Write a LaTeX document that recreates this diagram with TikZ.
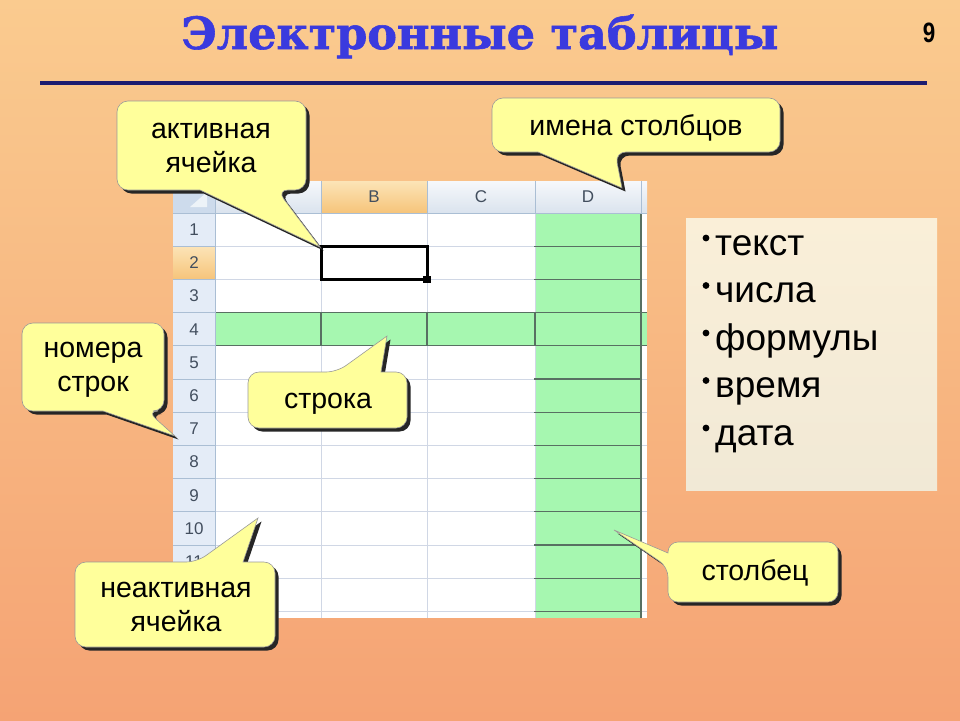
\documentclass[tikz,border=0pt]{standalone}
\usepackage{fontspec}
\setmainfont{Liberation Sans}
\newfontfamily\titlefont[BoldFeatures={FakeBold=1.3}]{DejaVu Serif}
\usetikzlibrary{shadows}

\begin{document}
\begin{tikzpicture}[x=1pt,y=-1pt,
    calloutshape/.style={fill=calyel, draw=black!40, line width=0.6pt,
      drop shadow={shadow xshift=3.5pt, shadow yshift=-3.5pt, fill=black!85, opacity=1}},
    callouttext/.style={font=\fontsize{28.5}{34.5}\selectfont, align=center, inner sep=0pt},
    hdrtext/.style={font=\fontsize{17}{17}\selectfont, text=hdrink, inner sep=0pt},
    gridline/.style={draw=gridgray, line width=1pt},
    greenline/.style={draw=greenedge, line width=1.3pt},
    hdrline/.style={draw=hdredge, line width=0.8pt},
    itemtext/.style={font=\fontsize{37}{37}\selectfont, anchor=base west, inner sep=0pt}]
  \definecolor{bgtop}{RGB}{250,203,143}
  \definecolor{bgbot}{RGB}{245,163,116}
  \definecolor{titleblue}{RGB}{58,58,222}
  \definecolor{rulenavy}{RGB}{28,28,112}
  \definecolor{calyel}{RGB}{255,255,155}
  \definecolor{cellgreen}{RGB}{166,247,176}
  \definecolor{greenedge}{RGB}{88,112,98}
  \definecolor{gridgray}{RGB}{208,215,229}
  \definecolor{hdrtop}{RGB}{246,248,251}
  \definecolor{hdrbot}{RGB}{218,227,238}
  \definecolor{seltop}{RGB}{252,228,183}
  \definecolor{selbot}{RGB}{246,196,122}
  \definecolor{rowhdr}{RGB}{228,236,247}
  \definecolor{cornerblue}{RGB}{205,219,236}
  \definecolor{hdredge}{RGB}{170,190,212}
  \definecolor{hdrink}{RGB}{66,78,94}
  \definecolor{paneltop}{RGB}{250,239,216}
  \definecolor{panelbot}{RGB}{241,233,214}
  \useasboundingbox (0,0) rectangle (960,720);
  \shade[top color=bgtop, bottom color=bgbot] (0,0) rectangle (960,720);

  % title and rule
  \node[font=\titlefont\bfseries\fontsize{44.5}{44.5}\selectfont, text=titleblue,
        anchor=base, inner sep=0pt] (title) at (480,49) {Электронные таблицы};
  \node[font=\bfseries\fontsize{28}{28}\selectfont, anchor=base, inner sep=0pt,
        xscale=0.8] (pagenum) at (929,42) {9};
  \draw[rulenavy, line width=4pt] (40,83) -- (927,83);

  % cells
  \fill[white] (215,213) rectangle (647,618);
  \fill[cellgreen] (535,213) rectangle (641,618);
  \fill[cellgreen] (215,312.6) rectangle (647,345.8);
  \foreach \xx in {321,427,535,641}
    \draw[gridline] (\xx,213) -- (\xx,618);
  \foreach \r in {1,...,12} {
    \pgfmathsetmacro{\yy}{213+\r*33.2}
    \draw[gridline] (215,\yy) -- (647,\yy);
  }
  \foreach \r in {1,...,12} {
    \pgfmathsetmacro{\yy}{213+\r*33.2}
    \draw[greenline] (534,\yy) -- (641,\yy);
  }
  \draw[greenline] (641,213) -- (641,618);
  \draw[greenline] (215,312.6) -- (647,312.6) (215,345.8) -- (647,345.8);
  \foreach \xx in {321,427,535}
    \draw[greenline] (\xx,312.6) -- (\xx,345.8);

  % headers
  \shade[top color=hdrtop, bottom color=hdrbot] (173,181) rectangle (647,213);
  \shade[top color=seltop, bottom color=selbot] (321,181) rectangle (427,213);
  \fill[rowhdr] (173,213) rectangle (215,618);
  \shade[top color=seltop, bottom color=selbot] (173,246.2) rectangle (215,279.4);
  \fill[cornerblue] (173,181) rectangle (215,213);
  \fill[white!65!cornerblue] (190,207) -- (207,207) -- (207,192) -- cycle;
  \foreach \xx in {215,321,427,535,641}
    \draw[hdrline] (\xx,181) -- (\xx,213);
  \foreach \r in {1,...,12} {
    \pgfmathsetmacro{\yy}{213+\r*33.2}
    \draw[hdrline] (173,\yy) -- (215,\yy);
  }
  \draw[hdrline] (173,213) -- (647,213);
  \draw[hdrline] (215,213) -- (215,618);
  \foreach \lett/\cx in {B/374,C/481,D/588}
    \node[hdrtext] (col\lett) at (\cx,197) {\lett};
  \foreach \r in {1,...,11}
    \node[hdrtext] (row\r) at (194,196.4+\r*33.2) {\r};

  % active cell
  \draw[black, line width=3pt] (321,246.2) rectangle (427,279.4);
  \fill[black] (423,276) rectangle (431,283);

  % list panel
  \shade[top color=paneltop, bottom color=panelbot] (686,218) rectangle (937,490);
  \foreach \word [count=\k from 0] in {текст,числа,формулы,время,дата} {
    \node[itemtext] (item\k) at (715,255+\k*47.5) {\word};
    \fill[black] (706,238+\k*47.5) circle (3.4pt);
  }

  % pointer tips
  \coordinate (tipact) at (320,247);
  \coordinate (tipcols) at (622,188);
  \coordinate (tiprows) at (175,436);
  \coordinate (tiprow) at (387,336);
  \coordinate (tipinact) at (258,518);
  \coordinate (tipcol) at (614,530);

  % callouts
  \path[calloutshape] (117,145) [rounded corners=11pt] -- (117,101) -- (306,101)
    -- (306,190) -- (277,190) [sharp corners] -- (tipact) -- (200,190)
    [rounded corners=11pt] -- (117,190) -- cycle;
  \path[calloutshape] (492,125) [rounded corners=11pt] -- (492,98) -- (780,98)
    -- (780,152) -- (615,152) [sharp corners] -- (tipcols) -- (538,152)
    [rounded corners=11pt] -- (492,152) -- cycle;
  \path[calloutshape] (22,367) [rounded corners=11pt] -- (22,323) -- (164,323)
    -- (164,411) -- (147,411) [sharp corners] -- (tiprows) -- (103,411)
    [rounded corners=11pt] -- (22,411) -- cycle;
  \path[calloutshape] (248,400) [rounded corners=11pt] -- (248,372) -- (337,372)
    [sharp corners] -- (tiprow) -- (381,372) [rounded corners=11pt]
    -- (407,372) -- (407,428) -- (248,428) -- cycle;
  \path[calloutshape] (75,605) [rounded corners=11pt] -- (75,562) -- (197,562)
    [sharp corners] -- (tipinact) -- (243,562) [rounded corners=11pt]
    -- (275,562) -- (275,647) -- (75,647) -- cycle;
  \path[calloutshape] (753,602) [rounded corners=10pt] -- (668,602) -- (668,567)
    [sharp corners] -- (tipcol) -- (668,553) [rounded corners=10pt]
    -- (668,542) -- (838,542) -- (838,602) -- cycle;

  \node[callouttext] (actlabel) at (211,148) {активная\\ячейка};
  \node[callouttext, anchor=base] (colslabel) at (636,135) {имена столбцов};
  \node[callouttext] (rowslabel) at (93,370) {номера\\строк};
  \node[callouttext, anchor=base] (rowlabel) at (328,408) {строка};
  \node[callouttext] (inactlabel) at (176,607) {неактивная\\ячейка};
  \node[callouttext, anchor=base] (collabel) at (755,580) {столбец};
\end{tikzpicture}
\end{document}
